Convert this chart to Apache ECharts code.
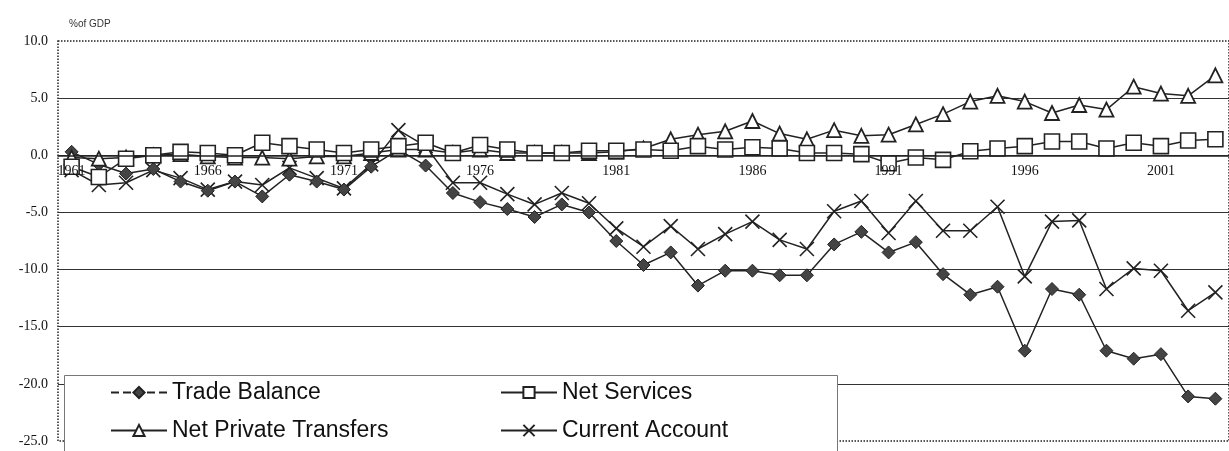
<!DOCTYPE html>
<html>
<head>
<meta charset="utf-8">
<script src="https://cdn.jsdelivr.net/npm/echarts@6/dist/echarts.min.js"></script>
<style>
  html, body { margin: 0; padding: 0; background: #fff; }
  #chart { width: 1229px; height: 451px; }
</style>
</head>
<body>
<div id="chart"></div>
<script>
// years 1961..2003
const years = [];
for (let y = 1961; y <= 2003; y++) years.push(String(y));

const tradeBalance = [0.3, -0.8, -1.6, -1.2, -2.3, -3.1, -2.3, -3.6, -1.7, -2.3,
  -3.0, -1.0, 0.5, -0.9, -3.3, -4.1, -4.7, -5.4, -4.3, -5.0,
  -7.5, -9.6, -8.5, -11.4, -10.1, -10.1, -10.5, -10.5, -7.8, -6.7,
  -8.5, -7.6, -10.4, -12.2, -11.5, -17.1, -11.7, -12.2, -17.1, -17.8,
  -17.4, -21.1, -21.3];

const netServices = [-1.0, -1.9, -0.3, 0.0, 0.3, 0.2, 0.0, 1.1, 0.8, 0.5,
  0.2, 0.5, 0.8, 1.1, 0.2, 0.9, 0.5, 0.2, 0.2, 0.4,
  0.4, 0.5, 0.4, 0.8, 0.5, 0.7, 0.6, 0.2, 0.2, 0.1,
  -0.7, -0.2, -0.4, 0.35, 0.6, 0.8, 1.2, 1.2, 0.6, 1.1,
  0.8, 1.3, 1.4];

const netPrivateTransfers = [-0.2, -0.3, -0.2, 0.0, 0.1, -0.1, -0.2, -0.2, -0.3, -0.1,
  -0.1, 0.2, 0.5, 0.5, 0.2, 0.5, 0.2, 0.2, 0.2, 0.2,
  0.3, 0.6, 1.4, 1.8, 2.1, 3.0, 1.9, 1.4, 2.2, 1.7,
  1.8, 2.7, 3.6, 4.7, 5.2, 4.7, 3.7, 4.4, 4.0, 6.0,
  5.4, 5.2, 7.0];

const currentAccount = [-1.3, -2.6, -2.4, -1.3, -2.0, -3.0, -2.3, -2.6, -1.1, -2.0,
  -2.9, -0.8, 2.2, 0.8, -2.4, -2.4, -3.4, -4.3, -3.3, -4.2,
  -6.4, -8.0, -6.2, -8.2, -6.9, -5.8, -7.4, -8.2, -4.9, -4.0,
  -6.8, -4.0, -6.6, -6.6, -4.5, -10.6, -5.8, -5.7, -11.7, -9.9,
  -10.1, -13.6, -12.0];

const chart = echarts.init(document.getElementById('chart'));

const ink = '#222';
const serif = '"Liberation Serif", "DejaVu Serif", serif';
const sans = '"Liberation Sans", Arial, sans-serif';
const crossPath = 'path://M0,0L10,10M10,0L0,10';

// plot area: top 41, bottom 441, y range -25..10 -> zero sits 285.7px above the bottom
const gridTop = 41, gridBottom = 10, plotH = 451 - gridTop - gridBottom;
const zeroOffset = -plotH * 25 / 35;

const legendText = { fontSize: 23, fontFamily: sans, color: '#111' };
function legendAt(item, left, top) {
  return {
    left: left,
    top: top,
    padding: 0,
    itemWidth: 56,
    itemHeight: 14,
    itemGap: 0,
    selectedMode: false,
    textStyle: legendText,
    data: [item],
    z: 10
  };
}

function lineSeries(name, data, symbol, size, itemStyle) {
  return {
    name: name,
    type: 'line',
    z: 1,
    data: data,
    symbol: symbol,
    symbolSize: size,
    lineStyle: { color: ink, width: 1.5 },
    itemStyle: itemStyle
  };
}

const option = {
  animation: false,
  backgroundColor: '#fff',
  title: {
    text: '%of GDP',
    left: 64,
    top: 14,
    textStyle: { fontSize: 10, fontWeight: 'normal', fontFamily: sans, color: '#333' }
  },
  grid: {
    left: 58,
    right: -11.5,
    top: gridTop,
    bottom: gridBottom,
    show: true,
    borderColor: ink,
    borderWidth: 1.5,
    borderType: 'dotted'
  },
  xAxis: {
    type: 'category',
    data: years,
    boundaryGap: true,
    offset: zeroOffset,
    z: 4,
    axisLine: { onZero: false, lineStyle: { color: ink, width: 1.5 } },
    axisTick: { interval: 0, length: 4, lineStyle: { color: ink } },
    axisLabel: {
      interval: 4,
      showMinLabel: true,
      hideOverlap: false,
      margin: 9,
      fontSize: 14,
      fontFamily: serif,
      color: '#111'
    },
    splitLine: { show: false }
  },
  yAxis: {
    type: 'value',
    min: -25,
    max: 10,
    interval: 5,
    axisLine: { show: false },
    axisTick: { show: false },
    axisLabel: {
      margin: 10,
      fontSize: 14,
      fontFamily: serif,
      color: '#111',
      formatter: v => v.toFixed(1)
    },
    splitLine: {
      show: true,
      showMinLine: false,
      showMaxLine: false,
      lineStyle: { color: '#333', width: 1.2 }
    }
  },
  legend: [
    legendAt({ name: 'Trade Balance', lineStyle: { type: 'dashed' } }, 110, 381),
    legendAt('Net Private Transfers', 110, 419),
    legendAt('Net Services', 500, 381),
    legendAt('Current Account', 500, 419)
  ],
  graphic: [{
    type: 'rect',
    z: 5,
    shape: { x: 64.5, y: 375.5, width: 773, height: 90 },
    style: { fill: '#fff', stroke: '#777', lineWidth: 1 }
  }],
  series: [
    lineSeries('Current Account', currentAccount, crossPath, 14,
      { color: ink, borderColor: ink, borderWidth: 1.6 }),
    lineSeries('Trade Balance', tradeBalance, 'diamond', 13,
      { color: '#444', borderColor: ink, borderWidth: 1 }),
    lineSeries('Net Private Transfers', netPrivateTransfers, 'triangle', 14,
      { color: '#fff', borderColor: ink, borderWidth: 1.8 }),
    lineSeries('Net Services', netServices, 'rect', 15,
      { color: '#fff', borderColor: ink, borderWidth: 1.6 })
  ]
};

chart.setOption(option);
</script>
</body>
</html>
